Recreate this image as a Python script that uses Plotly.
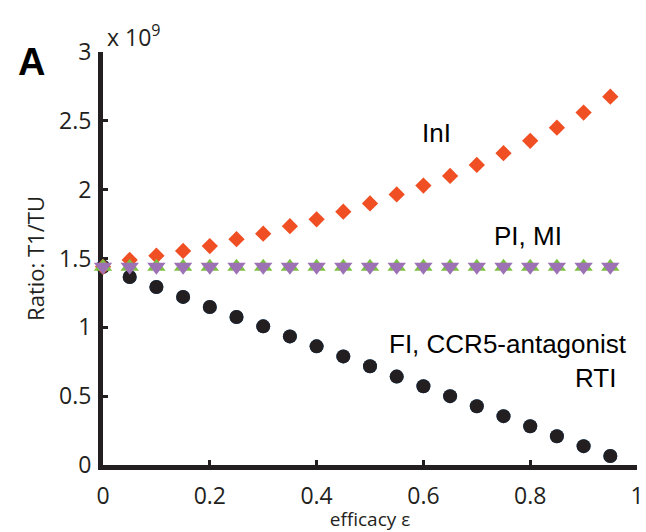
import plotly.graph_objects as go

# ---- data (ratio values in units of 1e9) ----
efficacy = [0.0, 0.05, 0.10, 0.15, 0.20, 0.25, 0.30, 0.35, 0.40, 0.45, 0.50,
            0.55, 0.60, 0.65, 0.70, 0.75, 0.80, 0.85, 0.90, 0.95]
ratio_inI = [1.44, 1.49, 1.52, 1.555, 1.59, 1.64, 1.68, 1.735, 1.785, 1.84, 1.90,
             1.965, 2.03, 2.10, 2.18, 2.265, 2.355, 2.45, 2.56, 2.675]
ratio_pi = [1.44] * 20
ratio_mi = [1.44] * 20
ratio_fi_ccr5 = [1.44, 1.366, 1.293, 1.221, 1.148, 1.075, 1.007, 0.934, 0.862, 0.789, 0.717,
                 0.642, 0.572, 0.500, 0.427, 0.355, 0.282, 0.209, 0.137, 0.065]
ratio_rti = list(ratio_fi_ccr5)

x_ticks = [0, 0.2, 0.4, 0.6, 0.8, 1]
x_ticktext = ["0", "0.2", "0.4", "0.6", "0.8", "1"]
y_ticks = [0, 0.5, 1, 1.5, 2, 2.5, 3]
y_ticktext = ["0", "0.5", "1", "1.5", "2", "2.5", "3"]

W, H = 646, 532
ML, MR, MT, MB = 103, 9, 52, 67
PW, PH = W - ML - MR, H - MT - MB


def px(x):
    return (x - ML) / PW


def py(y):
    return (H - MB - y) / PH


AX = "#231f20"
FONT = "Open Sans"

fig = go.Figure()
fig.add_trace(go.Scatter(x=efficacy, y=ratio_rti, mode="markers", name="RTI",
                         marker=dict(symbol="circle", size=14, color="#1f6fb8", line=dict(width=0)),
                         cliponaxis=False))
fig.add_trace(go.Scatter(x=efficacy, y=ratio_fi_ccr5, mode="markers", name="FI, CCR5-antagonist",
                         marker=dict(symbol="circle", size=14, color=AX, line=dict(width=0)),
                         cliponaxis=False))
fig.add_trace(go.Scatter(x=efficacy, y=ratio_inI, mode="markers", name="InI",
                         marker=dict(symbol="diamond", size=12.5, color="#f04e23", line=dict(width=0)),
                         cliponaxis=False))
fig.add_trace(go.Scatter(x=efficacy, y=ratio_mi, mode="markers", name="MI",
                         marker=dict(symbol="triangle-up", size=16, color="#7cc142", line=dict(width=0)),
                         cliponaxis=False))
fig.add_trace(go.Scatter(x=efficacy, y=ratio_pi, mode="markers", name="PI",
                         marker=dict(symbol="triangle-down", size=16, color="#9d72b5", line=dict(width=0)),
                         cliponaxis=False))

fig.update_layout(
    width=W, height=H,
    margin=dict(l=ML, r=MR, t=MT, b=MB, autoexpand=False),
    plot_bgcolor="white", paper_bgcolor="white",
    showlegend=False,
    font=dict(family=FONT, color=AX),
    xaxis=dict(range=[0, 1], tickvals=x_ticks, ticktext=x_ticktext,
               showgrid=False, zeroline=False, showline=True, linecolor=AX, linewidth=5,
               ticks="inside", ticklen=5, tickwidth=3, tickcolor=AX,
               tickfont=dict(family=FONT, size=23, color=AX), ticklabelstandoff=6,
               layer="below traces",
               title=dict(text="efficacy ε", font=dict(family=FONT, size=19, color=AX), standoff=6)),
    yaxis=dict(range=[0, 3], tickvals=y_ticks, ticktext=y_ticktext,
               showgrid=False, zeroline=False, showline=True, linecolor=AX, linewidth=5,
               ticks="inside", ticklen=5, tickwidth=3, tickcolor=AX,
               tickfont=dict(family=FONT, size=23, color=AX), ticklabelstandoff=2,
               layer="below traces",
               title=dict(text="Ratio: T1/TU", font=dict(family=FONT, size=22, color=AX), standoff=10)),
)

ann = [
    dict(text="<b>A</b>", x=px(31), y=py(62), font=dict(family="Liberation Sans", size=38, color="black")),
    dict(text="x 10<sup>9</sup>", x=px(134), y=py(36), font=dict(family=FONT, size=23, color=AX)),
    dict(text="InI", x=px(436), y=py(133), font=dict(family="Liberation Sans", size=26, color="black")),
    dict(text="PI, MI", x=px(528), y=py(236), font=dict(family="Liberation Sans", size=26, color="black")),
    dict(text="FI, CCR5-antagonist", x=px(508), y=py(344), font=dict(family="Liberation Sans", size=26, color="black")),
    dict(text="RTI", x=px(595), y=py(378), font=dict(family="Liberation Sans", size=26, color="black")),
]
for a in ann:
    fig.add_annotation(xref="paper", yref="paper", showarrow=False,
                       xanchor="center", yanchor="middle", **a)

fig.write_html("out.html", config={"displayModeBar": False},
               post_script="document.body.style.margin='0px';")
